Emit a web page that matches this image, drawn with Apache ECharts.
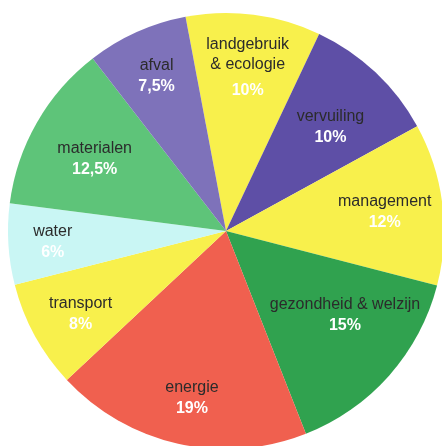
<!DOCTYPE html>
<html>
<head>
<meta charset="utf-8">
<script src="https://cdn.jsdelivr.net/npm/echarts@6/dist/echarts.min.js"></script>
<style>html,body{margin:0;padding:0;background:#fff;}#c{width:442px;height:446px;}</style>
</head>
<body>
<div id="c"></div>
<script>
const categories = ['landgebruik\n& ecologie', 'vervuiling', 'management', 'gezondheid & welzijn', 'energie', 'transport', 'water', 'materialen', 'afval'];
const shares = [10, 10, 12, 15, 19, 8, 6, 12.5, 7.5];
const sliceColors = ['#f8f04c', '#5e4fa6', '#f8f04c', '#30a24f', '#f0604f', '#f8f04c', '#c9f6f4', '#5ec479', '#7e72ba'];
const labelRadiusFactor = [0.76, 0.68, 0.72, 0.66, 0.77, 0.77, 0.81, 0.69, 0.79];
const labelNudgeX = [1, 3, 3, 11, 3, 2, 3, -1, 1];
const labelNudgeY = [1, 4, 1, -11, 3, 3, 1, 3, 2];

const CX = 226, CY = 231, R = 218;
const chart = echarts.init(document.getElementById('c'), null, {renderer: 'canvas'});

const fmt = v => String(v).replace('.', ',') + '%';

const slices = categories.map((n, i) => ({value: shares[i], name: n, itemStyle: {color: sliceColors[i]}}));
const labelItems = categories.map((n, i) => ({
  value: shares[i], name: n,
  label: {
    formatter: n.split('\n').map(s => '{n|' + s + '}').join('\n') + '\n' + (n.indexOf('\n') >= 0 ? '{q|' : '{p|') + fmt(shares[i]) + '}'
  }
}));

chart.setOption({
  animation: false,
  series: [
    {
      type: 'pie', center: [CX, CY], radius: [0, R], startAngle: 100.7, clockwise: true,
      data: slices, label: {show: false}, labelLine: {show: false}, silent: true,
      itemStyle: {borderWidth: 0}
    },
    {
      type: 'pie', center: [CX, CY], radius: [R * 0.5, R], startAngle: 100.7, clockwise: true,
      data: labelItems, silent: true,
      itemStyle: {color: 'rgba(0,0,0,0)', borderWidth: 0},
      labelLine: {show: false},
      label: {
        show: true, position: 'inside', rotate: 0, align: 'center',
        rich: {
          n: {fontFamily: 'Liberation Sans, Arial, sans-serif', fontSize: 16, color: '#2b2b2b', lineHeight: 20},
          p: {fontFamily: 'Liberation Sans, Arial, sans-serif', fontSize: 16, fontWeight: 'bold', color: '#ffffff', lineHeight: 22},
          q: {fontFamily: 'Liberation Sans, Arial, sans-serif', fontSize: 16, fontWeight: 'bold', color: '#ffffff', lineHeight: 32}
        }
      },
      labelLayout: function (p) {
        const r = p.labelRect;
        const lx = r.x + r.width / 2, ly = r.y + r.height / 2;
        const cur = Math.hypot(lx - CX, ly - CY);
        const k = labelRadiusFactor[p.dataIndex] * R / cur;
        return {
          dx: (k - 1) * (lx - CX) + labelNudgeX[p.dataIndex],
          dy: (k - 1) * (ly - CY) + labelNudgeY[p.dataIndex]
        };
      }
    }
  ]
});
</script>
</body>
</html>
